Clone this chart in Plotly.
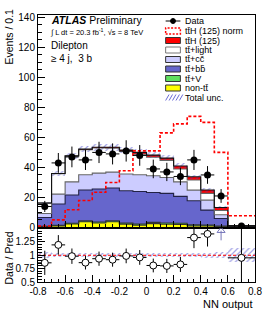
import plotly.graph_objects as go
import numpy as np

# ---------------- data ----------------
bin_centers = [-0.75, -0.65, -0.55, -0.45, -0.35, -0.25, -0.15, -0.05,
               0.05, 0.15, 0.25, 0.35, 0.45, 0.55, 0.70]
bin_widths = [0.1] * 14 + [0.2]

data = [14, 43, 47, 45, 50, 49, 51, 48, 39, 37, 34, 45, 35, 21, 1.0]
data_err = [3.7, 6.6, 6.9, 6.7, 7.1, 7.0, 7.1, 6.9, 6.2, 6.1, 5.8, 6.7, 5.9, 4.6, 0.71]

non_tt = [0.7, 1.1, 2.3, 3.8, 3.0, 3.8, 2.2, 1.6, 2.6, 2.2, 2.0, 1.1, 1.0, 0.5, 0.2]
tt_V = [0.1, 0.3, 0.5, 0.6, 0.7, 0.7, 0.7, 0.7, 0.8, 0.8, 0.8, 0.7, 0.6, 0.4, 0.1]
tt_bb = [5.9, 14.2, 18.8, 20.6, 21.9, 21.8, 21.6, 21.7, 19.9, 19.7, 17.9, 16.0, 10.0, 5.1, 0.5]
tt_cc = [2.6, 6.6, 8.8, 10.1, 10.6, 10.6, 11.1, 11.1, 11.2, 10.6, 9.7, 7.1, 6.6, 2.5, 0.15]
tt_light = [6.9, 13.6, 17.1, 16.7, 16.7, 15.9, 15.1, 13.7, 12.3, 11.4, 8.6, 6.7, 4.5, 2.8, 0.05]
ttH = [0.1, 0.2, 0.3, 0.4, 0.5, 0.6, 0.9, 1.2, 1.4, 1.5, 2.0, 2.2, 2.3, 2.0, 0.05]
ttH_norm = [1.0, 5.1, 11.8, 18.0, 23.5, 30.0, 37.8, 51.0, 51.0, 63.0, 69.0, 74.0, 70.0, 50.0, 7.8]
unc_rel = [0.06, 0.04, 0.04, 0.04, 0.04, 0.04, 0.04, 0.04, 0.04, 0.04, 0.04, 0.04, 0.05, 0.06, 0.13]

x_ticks = [-0.8, -0.6, -0.4, -0.2, 0, 0.2, 0.4, 0.6, 0.8]
x_ticklabels = ["-0.8", "-0.6", "-0.4", "-0.2", "0", "0.2", "0.4", "0.6", "0.8"]
ratio_ticks = [0.5, 0.75, 1, 1.25]
ratio_ticklabels = ["0.5", "0.75", "1", "1.25"]

layers = [
    ("non-tt̄", non_tt, "#ffff00", "#333333"),
    ("tt̄+V", tt_V, "#5fe05f", "#333333"),
    ("tt̄+bb̄", tt_bb, "#6666cc", "#222244"),
    ("tt̄+cc̄", tt_cc, "#ccccff", "#666666"),
    ("tt̄+light", tt_light, "#ffffff", "#666666"),
    ("tt̄H (125)", ttH, "#ff0000", "#111111"),
]

RMIN, RMAX = 0.5, 1.52
YMAX = 141.5

# ------------- derived -------------
c = np.array(bin_centers)
w = np.array(bin_widths)
edges = list(c - w / 2) + [float(c[-1] + w[-1] / 2)]

fig = go.Figure()

base = np.zeros(len(c))
tops = []
for name, vals, col, lcol in layers:
    v = np.array(vals)
    fig.add_trace(go.Bar(x=c, y=v, base=base, width=w, marker=dict(color=col, line=dict(width=0)),
                         showlegend=False, xaxis="x", yaxis="y", hoverinfo="skip"))
    base = base + v
    tops.append((base.copy(), lcol))

pred = base.copy()

# step outlines
for t, lcol in tops:
    fig.add_trace(go.Scatter(x=edges, y=list(t) + [t[-1]], mode="lines", line=dict(color=lcol, width=1.1, shape="hv"),
                             showlegend=False, xaxis="x", yaxis="y", hoverinfo="skip"))

# uncertainty hatch (main)
unc = pred * np.array(unc_rel)
fig.add_trace(go.Bar(x=c, y=2 * unc, base=pred - unc, width=w,
                     marker=dict(color="rgba(0,0,0,0)", line=dict(width=0),
                                 pattern=dict(shape="/", fgcolor="#4444cc", size=4, solidity=0.3)),
                     showlegend=False, xaxis="x", yaxis="y", hoverinfo="skip"))

# ttH normalised dashed
fig.add_trace(go.Scatter(x=edges, y=list(ttH_norm) + [ttH_norm[-1]], mode="lines",
                         line=dict(color="#ff0000", width=1.6, dash="3px,2px", shape="hv"),
                         showlegend=False, xaxis="x", yaxis="y", hoverinfo="skip"))

# data
fig.add_trace(go.Scatter(x=c, y=data, mode="markers",
                         marker=dict(color="black", size=7),
                         error_y=dict(type="data", array=data_err, color="black", thickness=1, width=0),
                         error_x=dict(type="data", array=w / 2, color="black", thickness=1, width=0),
                         showlegend=False, xaxis="x", yaxis="y"))

# ---------------- ratio ----------------
ratio = np.array(data) / pred
ratio_err = np.array(data_err) / pred

fig.add_trace(go.Bar(x=c, y=2 * np.array(unc_rel), base=1 - np.array(unc_rel), width=w,
                     marker=dict(color="rgba(0,0,0,0)", line=dict(width=0),
                                 pattern=dict(shape="/", fgcolor="#4444cc", size=4, solidity=0.3)),
                     showlegend=False, xaxis="x2", yaxis="y2", hoverinfo="skip"))
fig.add_trace(go.Scatter(x=[-0.8, 0.8], y=[1, 1], mode="lines", line=dict(color="#ff0000", width=1, dash="3px,2px"),
                         showlegend=False, xaxis="x2", yaxis="y2", hoverinfo="skip"))

inside = ratio <= RMAX
fig.add_trace(go.Scatter(x=c[inside], y=ratio[inside], mode="markers",
                         marker=dict(color="white", size=7, line=dict(color="black", width=1)),
                         error_y=dict(type="data", array=ratio_err[inside], color="black", thickness=1, width=0),
                         error_x=dict(type="data", array=(w / 2)[inside], color="black", thickness=1, width=0),
                         showlegend=False, xaxis="x2", yaxis="y2", cliponaxis=True))

# off-scale arrows
for xi, ri in zip(c, ratio):
    if ri > RMAX:
        fig.add_trace(go.Scatter(x=[xi, xi], y=[RMAX - 0.24, RMAX - 0.06], mode="lines",
                                 line=dict(color="#7777bb", width=1), showlegend=False, xaxis="x2", yaxis="y2"))
        fig.add_trace(go.Scatter(x=[xi], y=[RMAX - 0.06], mode="markers",
                                 marker=dict(symbol="triangle-up-open", size=7, color="#7777bb", line=dict(width=1)),
                                 showlegend=False, xaxis="x2", yaxis="y2"))

annotations = []
shapes = []

# ---------------- layout helpers ----------------
X0, X1, Y0, Y1 = 38, 259, 15, 282


def px(x):
    return (x - X0) / (X1 - X0)


def py(y):
    return (Y1 - y) / (Y1 - Y0)


FONT = "Liberation Sans, Arial, Helvetica, sans-serif"

# text
annotations += [
    dict(text="<b><i>ATLAS</i></b> Preliminary", x=px(49), y=py(20), xref="paper", yref="paper",
         xanchor="left", yanchor="middle", showarrow=False, font=dict(size=10.5, family=FONT, color="black")),
    dict(text="∫ L dt = 20.3 fb<sup>-1</sup>, √s = 8 TeV", x=px(48), y=py(32), xref="paper", yref="paper",
         xanchor="left", yanchor="middle", showarrow=False, font=dict(size=7.5, family=FONT, color="black")),
    dict(text="Dilepton", x=px(49), y=py(46), xref="paper", yref="paper",
         xanchor="left", yanchor="middle", showarrow=False, font=dict(size=10, family=FONT, color="black")),
    dict(text="≥ 4 j,  3 b", x=px(49), y=py(59), xref="paper", yref="paper",
         xanchor="left", yanchor="middle", showarrow=False, font=dict(size=10, family=FONT, color="black")),
    dict(text="Events / 0.1", x=px(8), y=py(7), xref="paper", yref="paper", textangle=-90,
         xanchor="center", yanchor="top", showarrow=False, font=dict(size=10.5, family=FONT, color="black")),
    dict(text="Data / Pred", x=px(8), y=py(258), xref="paper", yref="paper", textangle=-90,
         xanchor="center", yanchor="middle", showarrow=False, font=dict(size=10.5, family=FONT, color="black")),
    dict(text="NN output", x=px(259), y=py(304), xref="paper", yref="paper",
         xanchor="right", yanchor="middle", showarrow=False, font=dict(size=11, family=FONT, color="black")),
]

# custom legend
leg_rows = [21, 31, 40.5, 50, 59.5, 69, 78.5, 88, 97.5]
leg_labels = ["Data", "tt̄H (125) norm", "tt̄H (125)", "tt̄+light", "tt̄+cc̄", "tt̄+bb̄", "tt̄+V", "non-tt̄", "Total unc."]
bx0, bx1, tx = 168, 183, 186
for i, (ry, lab) in enumerate(zip(leg_rows, leg_labels)):
    annotations.append(dict(text=lab, x=px(tx), y=py(ry), xref="paper", yref="paper", xanchor="left",
                            yanchor="middle", showarrow=False, font=dict(size=9, family=FONT, color="black")))
    y0, y1 = py(ry + 3), py(ry - 3)
    if lab == "Data":
        shapes.append(dict(type="line", xref="paper", yref="paper", x0=px(bx0), x1=px(bx1), y0=py(ry), y1=py(ry),
                           line=dict(color="black", width=1)))
        shapes.append(dict(type="circle", xref="paper", yref="paper", x0=px(173), x1=px(178), y0=py(ry + 2.5),
                           y1=py(ry - 2.5), fillcolor="black", line=dict(color="black", width=1)))
    elif lab.endswith("norm"):
        shapes.append(dict(type="rect", xref="paper", yref="paper", x0=px(bx0), x1=px(bx1), y0=y0, y1=y1,
                           line=dict(color="#ff0000", width=1.5, dash="2px,1.5px"), fillcolor="rgba(0,0,0,0)"))
    elif lab == "Total unc.":
        for k in range(5):
            xa = bx0 + k * 3.5
            shapes.append(dict(type="line", xref="paper", yref="paper", x0=px(xa), x1=px(xa + 3.5),
                               y0=py(ry + 3), y1=py(ry - 3), line=dict(color="#4444cc", width=0.8)))
    else:
        name_map = {"tt̄H (125)": 5, "tt̄+light": 4, "tt̄+cc̄": 3, "tt̄+bb̄": 2, "tt̄+V": 1, "non-tt̄": 0}
        _, _, col, lcol = layers[name_map[lab]]
        shapes.append(dict(type="rect", xref="paper", yref="paper", x0=px(bx0), x1=px(bx1), y0=y0, y1=y1,
                           line=dict(color="#333333" if lab != "tt̄+light" else "#777777", width=1), fillcolor=col))

axis_common = dict(showline=True, linecolor="black", linewidth=1, mirror=True, ticks="inside",
                   tickcolor="black", showgrid=False, zeroline=False,
                   tickfont=dict(size=10, family=FONT, color="black"))

fig.update_layout(
    width=274, height=316,
    margin=dict(l=X0, r=274 - X1, t=Y0, b=316 - Y1, pad=0),
    paper_bgcolor="white", plot_bgcolor="white",
    barmode="overlay", bargap=0,
    showlegend=False, hovermode=False,
    annotations=annotations, shapes=shapes,
    xaxis=dict(domain=[0, 1], range=[-0.8, 0.8], anchor="y", tickvals=x_ticks, showticklabels=False,
               ticklen=7, minor=dict(dtick=0.05, ticklen=3.5, ticks="inside", tickcolor="black"), **axis_common),
    yaxis=dict(domain=[py(227.5), 1], range=[0, YMAX], anchor="x", dtick=20, ticklen=7,
               minor=dict(dtick=5, ticklen=3.5, ticks="inside", tickcolor="black"), **axis_common),
    xaxis2=dict(domain=[0, 1], range=[-0.8, 0.8], anchor="y2", tickvals=x_ticks, ticktext=x_ticklabels,
                ticklen=7, minor=dict(dtick=0.05, ticklen=3.5, ticks="inside", tickcolor="black"), **axis_common),
    yaxis2=dict(domain=[0, py(227.5)], range=[RMIN, RMAX], anchor="x2", tickvals=ratio_ticks,
                ticktext=ratio_ticklabels, ticklen=7,
                minor=dict(dtick=0.05, ticklen=3.5, ticks="inside", tickcolor="black"), **axis_common),
)

fig.write_html("out.html", config={"displayModeBar": False, "staticPlot": True},
               post_script="document.body.style.margin='0';document.body.style.padding='0';")
